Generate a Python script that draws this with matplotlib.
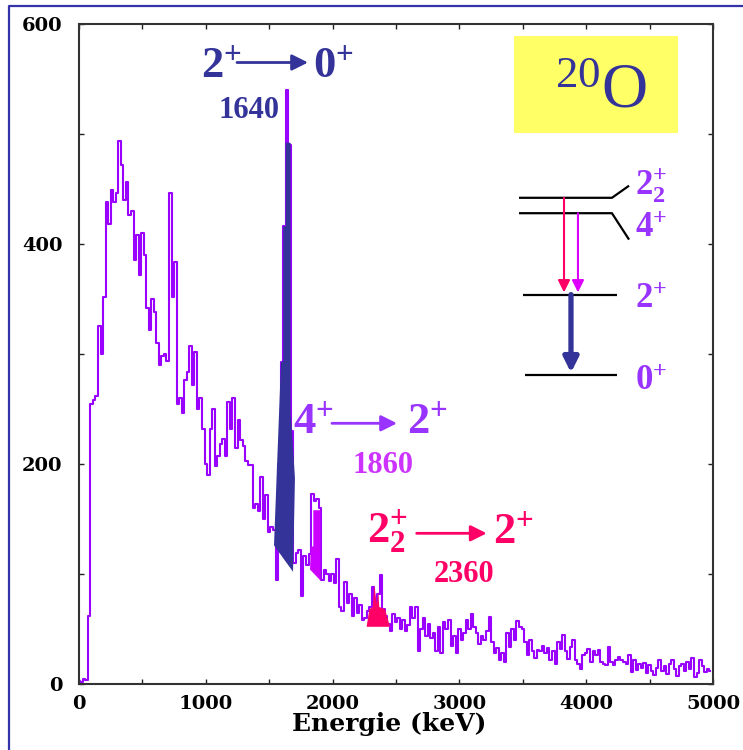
import matplotlib
matplotlib.use("Agg")
import matplotlib.pyplot as plt
from matplotlib.lines import Line2D
from matplotlib.patches import Rectangle, Polygon
import numpy as np

plt.rcParams["mathtext.fontset"] = "custom"
plt.rcParams["mathtext.rm"] = "Liberation Serif"
plt.rcParams["mathtext.bf"] = "Liberation Serif:bold"
plt.rcParams["mathtext.it"] = "Liberation Serif:italic"

# gamma spectrum of 20O, 20 keV bins (bin centres 0, 20, 40, ...)
bin_width = 20
counts = [
    3, 2, 5, 4, 62, 255, 258, 262, 325, 300,
    352, 438, 418, 449, 438, 446, 494, 472, 440, 456,
    426, 430, 385, 408, 372, 410, 390, 342, 322, 350,
    338, 310, 290, 298, 300, 294, 446, 352, 384, 255,
    260, 246, 276, 284, 307, 272, 302, 250, 260, 232,
    200, 190, 232, 250, 198, 207, 218, 223, 207, 256,
    232, 260, 215, 240, 222, 216, 203, 199, 199, 160,
    164, 157, 188, 150, 172, 138, 143, 140, 95, 200,
    293, 416, 540, 490, 230, 110, 119, 122, 80, 116,
    108, 118, 173, 166, 168, 160, 95, 104, 100, 94,
    100, 92, 114, 70, 66, 93, 74, 82, 62, 78,
    65, 72, 58, 60, 66, 70, 88, 73, 82, 99,
    68, 62, 55, 48, 64, 56, 60, 50, 58, 48,
    54, 70, 60, 70, 30, 50, 60, 44, 55, 42,
    46, 30, 52, 28, 56, 50, 58, 35, 44, 28,
    50, 40, 46, 58, 50, 64, 52, 46, 36, 44,
    40, 48, 61, 38, 28, 33, 22, 28, 20, 46,
    34, 50, 40, 57, 52, 50, 38, 26, 40, 30,
    24, 31, 30, 35, 28, 33, 22, 30, 18, 38,
    32, 45, 30, 23, 34, 40, 22, 18, 14, 26,
    28, 32, 20, 30, 26, 31, 20, 18, 17, 34,
    20, 17, 22, 25, 22, 20, 18, 26, 11, 22,
    13, 18, 15, 19, 10, 17, 12, 8, 15, 22,
    12, 16, 9, 18, 22, 14, 7, 16, 18, 12,
    20, 14, 24, 6, 10, 22, 16, 11, 14, 12,
]
energy = np.arange(len(counts)) * bin_width

# shaded peak areas (energy in keV, counts)
peak1640_e = [1538, 1593, 1611, 1611, 1630, 1630, 1669, 1669, 1678, 1703, 1688]
peak1640_c = [126, 293, 293, 416, 416, 492, 492, 246, 232, 187, 102]
peak1860_e = [1822, 1828, 1848, 1848, 1905, 1905]
peak1860_c = [104, 125, 125, 158, 158, 94]
peak2360_e = [2268, 2290, 2316, 2322, 2329, 2340, 2348, 2355, 2361, 2368, 2413, 2453]
peak2360_c = [52, 68, 70, 80, 90, 80, 73, 78, 84, 70, 68, 52]

# level scheme of 20O: spin labels and their text baselines
level_names = [r"$\mathbf{2_{2}^{+}}$", r"$\mathbf{4^{+}}$",
               r"$\mathbf{2^{+}}$", r"$\mathbf{0^{+}}$"]
level_label_y = [445, 406, 342, 267]

x_ticks = [0, 1000, 2000, 3000, 4000, 5000]
y_ticks = [0, 200, 400, 600]

purple = "#9A00FF"
navy = "#333399"
magenta = "#CC00FF"
red = "#FF0066"
lilac = "#9933FF"

fig = plt.figure(figsize=(7.43, 7.5), dpi=100)
ax = fig.add_axes([79 / 743, 66 / 750, 634 / 743, 660 / 750])

ax.step(energy, counts, where="mid", color=purple, lw=1.5, zorder=2)
ax.add_patch(Polygon(list(zip(peak1640_e, peak1640_c)), closed=True,
                     facecolor=navy, edgecolor="none", zorder=3))
ax.add_patch(Polygon(list(zip(peak1860_e, peak1860_c)), closed=True,
                     facecolor=magenta, edgecolor="none", zorder=3))
ax.add_patch(Polygon(list(zip(peak2360_e, peak2360_c)), closed=True,
                     facecolor=red, edgecolor="none", zorder=3))

ax.set_xlim(0, 5000)
ax.set_ylim(0, 600)
ax.set_xticks(x_ticks)
ax.set_xticks([500, 1500, 2500, 3500, 4500], minor=True)
ax.set_yticks(y_ticks)
ax.set_yticks([100, 300, 500], minor=True)
ax.set_xticklabels([str(v) for v in x_ticks])
ax.set_yticklabels([str(v) for v in y_ticks])
for lab in ax.get_xticklabels() + ax.get_yticklabels():
    lab.set_fontfamily("DejaVu Serif")
    lab.set_fontweight("bold")
    lab.set_fontsize(14)
ax.tick_params(which="both", direction="in", top=True, right=True,
               length=3.8, width=1.0, color="#222222")
ax.tick_params(axis="y", which="major", pad=12)
ax.tick_params(axis="x", which="major", pad=8)
for sp in ax.spines.values():
    sp.set_linewidth(1.5)
    sp.set_color("#333333")

ax.set_xlabel("Energie (keV)", fontfamily="DejaVu Serif", fontweight="bold",
              fontsize=18)
ax.xaxis.set_label_coords(0.489, -0.042)

# transition labels
serif = "Liberation Serif"
arrow_kw = dict(arrowstyle="-|>", lw=2.0, mutation_scale=24,
                shrinkA=0, shrinkB=0)

ax.text(962, 551, r"$\mathbf{2^{+}}$", fontsize=32, color=navy, va="baseline")
ax.annotate("", xy=(1806, 565), xytext=(1246, 565),
            arrowprops=dict(color=navy, **arrow_kw))
ax.text(1845, 551, r"$\mathbf{0^{+}}$", fontsize=32, color=navy, va="baseline")
ax.text(1341, 515, "1640", fontsize=22, color=navy, fontfamily=serif,
        fontweight="bold", ha="center", va="baseline")

ax.text(1690, 228, r"$\mathbf{4^{+}}$", fontsize=32, color=lilac, va="baseline",
        zorder=5)
ax.annotate("", xy=(2508, 237), xytext=(1995, 237),
            arrowprops=dict(color=lilac, **arrow_kw))
ax.text(2587, 228, r"$\mathbf{2^{+}}$", fontsize=32, color=lilac, va="baseline")
ax.text(2394, 192, "1860", fontsize=22, color="#CC33FF", fontfamily=serif,
        fontweight="bold", ha="center", va="baseline")

ax.text(2269, 128, r"$\mathbf{2_{2}^{+}}$", fontsize=32, color=red, va="baseline")
ax.annotate("", xy=(3215, 137), xytext=(2663, 137),
            arrowprops=dict(color=red, **arrow_kw))
ax.text(3268, 128, r"$\mathbf{2^{+}}$", fontsize=32, color=red, va="baseline")
ax.text(3037, 93, "2360", fontsize=22, color=red, fontfamily=serif,
        fontweight="bold", ha="center", va="baseline")

# nucleus name box
ax.add_patch(Rectangle((3431, 501), 1293, 88, facecolor="#FFFF66",
                       edgecolor="none", zorder=1))
ax.text(3754, 524, r"$^{20}$O", fontsize=46, color=navy, fontfamily=serif,
        va="baseline", zorder=4)

# level scheme
lk = dict(color="black", lw=1.6, solid_capstyle="butt")
ax.plot([3470, 4203, 4338], [442, 442, 453], **lk)
ax.plot([3470, 4203, 4338], [428, 428, 404], **lk)
ax.plot([3502, 4243], [354, 354], **lk)
ax.plot([3517, 4245], [281, 281], **lk)
ax.annotate("", xy=(3825, 356), xytext=(3825, 442),
            arrowprops=dict(arrowstyle="-|>", color=red, lw=1.5,
                            mutation_scale=18, shrinkA=0, shrinkB=0))
ax.annotate("", xy=(3935, 356), xytext=(3935, 428),
            arrowprops=dict(arrowstyle="-|>", color="#DD00FF", lw=1.5,
                            mutation_scale=18, shrinkA=0, shrinkB=0))
ax.annotate("", xy=(3880, 283), xytext=(3880, 354),
            arrowprops=dict(arrowstyle="-|>", color=navy, lw=3.8,
                            mutation_scale=22, shrinkA=0, shrinkB=0))
for name, yv in zip(level_names, level_label_y):
    ax.text(4385, yv, name, fontsize=25, color=lilac, va="baseline")

# page frame
fig.add_artist(Line2D([8.5 / 743, 8.5 / 743, 1.0], [0.0, 1 - 6 / 750, 1 - 6 / 750],
                      transform=fig.transFigure, color="#3333AA", lw=1.6))

fig.savefig("out.png", dpi=100, facecolor="white")
